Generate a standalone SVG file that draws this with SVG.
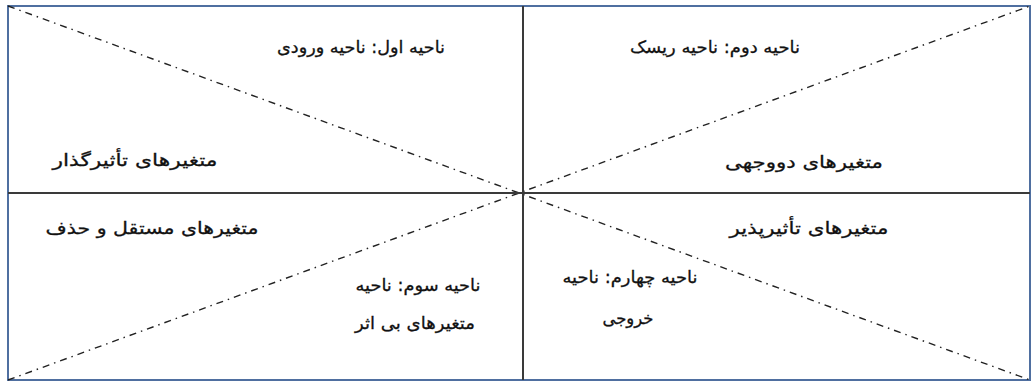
<svg xmlns="http://www.w3.org/2000/svg" width="1035" height="383" viewBox="0 0 1035 383">
<style>
.frame{fill:#fff;stroke:#4f6fa0;stroke-width:2}
.axis{stroke:#3a3a3a;stroke-width:2;fill:none}
.diag{stroke:#222;stroke-width:1.4;stroke-dasharray:7 5 1.5 5;fill:none}
text{font-family:"DejaVu Sans","Noto Sans",sans-serif;font-size:17px;fill:#111;text-anchor:middle;direction:rtl;stroke:#111;stroke-width:0.3}
</style>
<rect class="frame" x="8" y="6" width="1022" height="374"/>
<g id="connectors">
<line class="diag" x1="8" y1="6" x2="1030" y2="380"/>
<line class="diag" x1="8" y1="380" x2="1030" y2="6"/>
<line class="axis" x1="523" y1="6" x2="523" y2="380"/>
<line class="axis" x1="8" y1="193" x2="1030" y2="193"/>
</g>
<g id="zone1"><text x="361" y="53" textLength="168" lengthAdjust="spacingAndGlyphs">ناحیه اول: ناحیه ورودی</text></g>
<g id="zone2"><text x="715" y="53" textLength="170" lengthAdjust="spacingAndGlyphs">ناحیه دوم: ناحیه ریسک</text></g>
<g id="influential"><text x="135" y="166" textLength="165" lengthAdjust="spacingAndGlyphs">متغیرهای تأثیرگذار</text></g>
<g id="dual"><text x="804" y="168" textLength="158" lengthAdjust="spacingAndGlyphs">متغیرهای دووجهی</text></g>
<g id="independent"><text x="152" y="234" textLength="213" lengthAdjust="spacingAndGlyphs">متغیرهای مستقل و حذف</text></g>
<g id="dependent"><text x="809" y="234" textLength="159" lengthAdjust="spacingAndGlyphs">متغیرهای تأثیرپذیر</text></g>
<g id="zone3"><text x="418" y="291" textLength="125" lengthAdjust="spacingAndGlyphs">ناحیه سوم: ناحیه</text><text x="415" y="329" textLength="120" lengthAdjust="spacingAndGlyphs">متغیرهای بی اثر</text></g>
<g id="zone4"><text x="630" y="283" textLength="135" lengthAdjust="spacingAndGlyphs">ناحیه چهارم: ناحیه</text><text x="628" y="324" textLength="51" lengthAdjust="spacingAndGlyphs">خروجی</text></g>
</svg>
